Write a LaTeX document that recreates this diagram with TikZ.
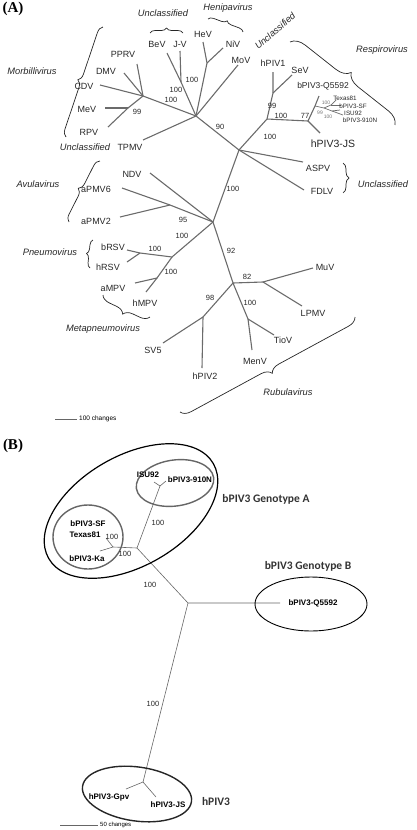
\documentclass[tikz,border=0pt]{standalone}
\usepackage{fontspec}
\setmainfont{Liberation Sans}
\newfontfamily\panelfont{Liberation Serif}
\newfontfamily\groupfont{Carlito}
\usetikzlibrary{decorations.pathreplacing,shapes.geometric}

\begin{document}
\begin{tikzpicture}[x=1pt, y=-1pt,
    branch/.style={draw=black!58, line width=1.1pt},
    twig/.style={draw=black!58, line width=0.7pt},
    btree/.style={draw=black!60, line width=0.6pt},
    leaf/.style={inner sep=0pt, text=black!85, font=\fontsize{9}{9}\selectfont},
    tiny/.style={inner sep=0pt, text=black!85, font=\fontsize{6.3}{6.3}\selectfont},
    boot/.style={inner sep=0pt, text=black!85, font=\fontsize{7.5}{7.5}\selectfont},
    smallboot/.style={inner sep=0pt, text=black!55, font=\fontsize{5}{5}\selectfont},
    genus/.style={inner sep=0pt, text=black!85, font=\fontsize{9.3}{9.3}\selectfont\itshape},
    clade/.style={decorate, decoration={brace, amplitude=#1}, draw=black!85, line width=0.7pt},
    clade/.default=6pt,
    bleaf/.style={inner sep=0pt, font=\fontsize{8}{8}\selectfont\bfseries},
    group/.style={inner sep=0pt, text=black!80, font=\fontsize{11.5}{11.5}\selectfont\groupfont\bfseries},
    ring/.style={ellipse, draw, inner sep=0pt},
    panel/.style={inner sep=0pt, font=\fontsize{15}{15}\selectfont\panelfont\bfseries}
]
\useasboundingbox (0,0) rectangle (416,830);

% Panel A
\node[panel] (pA) at (13,9) {(A)};

% Junctions
\coordinate (j1) at (196,116);
\coordinate (jmorb) at (143,96);
\coordinate (jmr) at (128,108);
\coordinate (jbj) at (181,82);
\coordinate (jhn) at (207,63);
\coordinate (j2) at (239,150);
\coordinate (jr1) at (267,119);
\coordinate (jhs) at (273,93);
\coordinate (jr2) at (308,121);
\coordinate (jr3) at (315,106);
\coordinate (jr4) at (324,108);
\coordinate (jr5) at (331,105);
\coordinate (jr6) at (332,111);
\coordinate (j3) at (213,222);
\coordinate (ja) at (170,205);
\coordinate (jp1) at (172,257);
\coordinate (jp2) at (140,253);
\coordinate (jp3) at (157,278);
\coordinate (jru1) at (233,283);
\coordinate (jru2) at (263,282);
\coordinate (jru3) at (248,319);
\coordinate (jru4) at (203,317);

% Tips
\coordinate (tPPRV) at (137,64);
\coordinate (tDMV) at (124,73);
\coordinate (tCDV) at (100,85);
\coordinate (tMeV) at (105,108);
\coordinate (tRPV) at (108,127);
\coordinate (tTPMV) at (143,140);
\coordinate (tBeV) at (167,53);
\coordinate (tJV) at (180,51);
\coordinate (tHeV) at (203,42);
\coordinate (tNiV) at (223,48);
\coordinate (tMoV) at (238,65);
\coordinate (thPIV1) at (273,72);
\coordinate (tSeV) at (292,75);
\coordinate (tQ) at (319,96);
\coordinate (tTex) at (336,100);
\coordinate (tSF) at (341,105);
\coordinate (tISU) at (340,110);
\coordinate (t910) at (343,115);
\coordinate (tJS) at (320,133);
\coordinate (tASPV) at (303,162);
\coordinate (tFDLV) at (304,190);
\coordinate (tNDV) at (150,173);
\coordinate (taPMV6) at (122,188);
\coordinate (taPMV2) at (120,217);
\coordinate (tbRSV) at (127,250);
\coordinate (thRSV) at (127,262);
\coordinate (taMPV) at (135,283);
\coordinate (thMPV) at (146,292);
\coordinate (tMuV) at (313,268);
\coordinate (tLPMV) at (302,306);
\coordinate (tTioV) at (274,335);
\coordinate (tMenV) at (252,350);
\coordinate (tSV5) at (163,343);
\coordinate (thPIV2) at (202,368);

% Branches
\draw[branch] (tPPRV) -- (jmorb);
\draw[branch] (tDMV) -- (jmorb);
\draw[branch] (tCDV) -- (jmorb) -- (j1);
\draw[branch] (tMeV) -- (jmr);
\draw[branch] (tRPV) -- (jmr) -- (jmorb);
\draw[branch] (tTPMV) -- (j1);
\draw[branch] (tBeV) -- (jbj) -- (j1);
\draw[branch] (tJV) -- (jbj);
\draw[branch] (tHeV) -- (jhn) -- (j1);
\draw[branch] (tNiV) -- (jhn);
\draw[branch] (tMoV) -- (j1);
\draw[branch] (j1) -- (j2);
\draw[branch] (j2) -- (jr1) -- (jhs) -- (thPIV1);
\draw[branch] (jhs) -- (tSeV);
\draw[branch] (jr1) -- (jr2) -- (tJS);
\draw[branch] (jr2) -- (jr3) -- (tQ);
\draw[twig] (jr3) -- (jr4) -- (jr5) -- (tTex);
\draw[twig] (jr5) -- (tSF);
\draw[twig] (jr4) -- (jr6) -- (tISU);
\draw[twig] (jr6) -- (t910);
\draw[branch] (j2) -- (tASPV);
\draw[branch] (j2) -- (tFDLV);
\draw[branch] (j2) -- (j3);
\draw[branch] (tNDV) -- (j3);
\draw[branch] (taPMV6) -- (ja) -- (j3);
\draw[branch] (taPMV2) -- (ja);
\draw[branch] (j3) -- (jp1) -- (jp2) -- (tbRSV);
\draw[branch] (jp2) -- (thRSV);
\draw[branch] (jp1) -- (jp3) -- (taMPV);
\draw[branch] (jp3) -- (thMPV);
\draw[branch] (j3) -- (jru1) -- (jru2) -- (tMuV);
\draw[branch] (jru2) -- (tLPMV);
\draw[branch] (jru1) -- (jru3) -- (tTioV);
\draw[branch] (jru3) -- (tMenV);
\draw[branch] (jru1) -- (jru4) -- (tSV5);
\draw[branch] (jru4) -- (thPIV2);

% Leaf labels
\node[leaf] (lPPRV) at (123,54) {PPRV};
\node[leaf] (lDMV) at (106,71) {DMV};
\node[leaf] (lCDV) at (84,86) {CDV};
\node[leaf] (lMeV) at (87,109) {MeV};
\node[leaf] (lRPV) at (89,132) {RPV};
\node[leaf] (lTPMV) at (130,147) {TPMV};
\node[leaf] (lBeV) at (157,44) {BeV};
\node[leaf] (lJV) at (180,44) {J-V};
\node[leaf] (lHeV) at (203,34) {HeV};
\node[leaf] (lNiV) at (233,44) {NiV};
\node[leaf] (lMoV) at (241,60) {MoV};
\node[leaf] (lhPIV1) at (273,63) {hPIV1};
\node[leaf] (lSeV) at (300,70) {SeV};
\node[leaf, font=\fontsize{8.5}{8.5}\selectfont] (lQ) at (323,86) {bPIV3-Q5592};
\node[tiny] (lTex) at (345,98) {Texas81};
\node[tiny] (lSF) at (353,106) {bPIV3-SF};
\node[tiny] (lISU) at (353,113) {ISU92};
\node[tiny] (l910) at (360,120) {bPIV3-910N};
\node[leaf, font=\fontsize{10.5}{10.5}\selectfont] (lJS) at (333,144) {hPIV3-JS};
\node[leaf] (lASPV) at (318,168) {ASPV};
\node[leaf] (lFDLV) at (322,191) {FDLV};
\node[leaf] (lNDV) at (132,174) {NDV};
\node[leaf] (laPMV6) at (96,189) {aPMV6};
\node[leaf] (laPMV2) at (96,221) {aPMV2};
\node[leaf] (lbRSV) at (113,247) {bRSV};
\node[leaf] (lhRSV) at (108,267) {hRSV};
\node[leaf] (laMPV) at (113,288) {aMPV};
\node[leaf] (lhMPV) at (145,303) {hMPV};
\node[leaf] (lMuV) at (325,267) {MuV};
\node[leaf] (lLPMV) at (313,313) {LPMV};
\node[leaf] (lTioV) at (283,340) {TioV};
\node[leaf] (lMenV) at (255,361) {MenV};
\node[leaf] (lSV5) at (153,350) {SV5};
\node[leaf] (lhPIV2) at (205,376) {hPIV2};

% Bootstrap values
\node[boot] at (171,100) {100};
\node[boot] at (176,90) {100};
\node[boot] at (192,80) {100};
\node[boot] at (137,112) {99};
\node[boot] at (220,127) {90};
\node[boot] at (272,106) {99};
\node[boot] at (281,116) {100};
\node[boot] at (305,116) {77};
\node[boot] at (270,137) {100};
\node[boot] at (233,189) {100};
\node[boot] at (183,220) {95};
\node[boot] at (182,236) {100};
\node[boot] at (155,249) {100};
\node[boot] at (171,272) {100};
\node[boot] at (231,251) {92};
\node[boot] at (247,277) {82};
\node[boot] at (250,303) {100};
\node[boot] at (210,298) {98};
\node[smallboot] at (326,103) {100};
\node[smallboot] at (320,113) {99};
\node[smallboot] at (328,117) {100};

% Genera and braces
\node[genus] (gU1) at (163,13) {Unclassified};
\draw[clade=5pt] (150,33) -- (183,33);
\node[genus] (gHen) at (228,8) {Henipavirus};
\draw[clade=5pt] (208,19) -- (243,32);
\node[genus] (gMor) at (32,71) {Morbillivirus};
\draw[clade=7pt] (66,137) -- (103,27);
\node[genus] (gU2) at (85,147) {Unclassified};
\node[genus, rotate=41] (gU3) at (275,31) {Unclassified};
\node[genus] (gRes) at (382,50) {Respirovirus};
\draw[clade=14pt] (290,42) -- (395,125);
\node[genus] (gU4) at (383,184) {Unclassified};
\draw[clade=6pt] (343,163) -- (343,193);
\node[genus] (gAvu) at (38,184) {Avulavirus};
\draw[clade=7pt] (69,222) -- (100,161);
\node[genus] (gPne) at (50,252) {Pneumovirus};
\draw[clade=5pt] (90,268) -- (93,240);
\node[genus] (gMet) at (103,329) {Metapneumovirus};
\draw[clade=9pt] (150,317) -- (103,295);
\node[genus] (gRub) at (288,392) {Rubulavirus};
\draw[clade=10pt] (355,317) -- (180,412);

% Scale A
\coordinate (sa1) at (55,419);
\coordinate (sa2) at (77,419);
\draw[draw=black!60, line width=0.8pt] (sa1) -- (sa2);
\node[inner sep=0pt, anchor=west, font=\fontsize{6.5}{6.5}\selectfont] (scA) at (79,419) {100 changes};

% Panel B
\node[panel] (pB) at (13,446) {(B)};

\coordinate (bfork) at (160,486);
\coordinate (bISU) at (154,482);
\coordinate (b910) at (166,481);
\coordinate (b1) at (137,548);
\coordinate (bsf) at (113,547);
\coordinate (bKa) at (100,551);
\coordinate (bTex) at (106,538);
\coordinate (b2) at (188,603);
\coordinate (bQ) at (280,603);
\coordinate (bh) at (143,782);
\coordinate (bGpv) at (126,789);
\coordinate (bJS) at (156,797);

\draw[btree] (bISU) -- (bfork) -- (b910);
\draw[btree] (bfork) -- (b1);
\draw[btree] (b1) -- (bsf) -- (bKa);
\draw[btree] (bsf) -- (bTex);
\draw[btree] (b1) -- (b2) -- (bQ);
\draw[btree] (b2) -- (bh);
\draw[btree] (bGpv) -- (bh) -- (bJS);

% Groups
\node[ring, line width=1.2pt, minimum width=190pt, minimum height=110pt, rotate=30] (gA) at (131,511) {};
\node[ring, draw=black!60, line width=1.4pt, minimum width=78pt, minimum height=46pt, rotate=8] (cISU) at (175,483) {};
\node[ring, draw=black!60, line width=1.4pt, minimum width=70pt, minimum height=64pt] (cSF) at (88,537) {};
\node[ring, line width=0.9pt, minimum width=112pt, minimum height=54pt] (gB) at (311,604) {};
\node[ring, draw=black!85, line width=1.4pt, minimum width=110pt, minimum height=54pt, rotate=-8] (gH) at (137,794) {};

\node[bleaf] (nISU) at (148,475) {ISU92};
\node[bleaf] (n910) at (190,480) {bPIV3-910N};
\node[bleaf] (nSF) at (88,524) {bPIV3-SF};
\node[bleaf] (nTex) at (85,535) {Texas81};
\node[bleaf] (nKa) at (87,559) {bPIV3-Ka};
\node[bleaf] (nQ) at (313,603) {bPIV3-Q5592};
\node[bleaf] (nGpv) at (109,797) {hPIV3-Gpv};
\node[bleaf] (nJS) at (168,805) {hPIV3-JS};

\node[boot] at (158,523) {100};
\node[boot] at (112,537) {100};
\node[boot] at (125,554) {100};
\node[boot] at (150,585) {100};
\node[boot] at (153,704) {100};

\node[group] (tA) at (266,499) {bPIV3 Genotype A};
\node[group] (tB) at (308,566) {bPIV3 Genotype B};
\node[group] (tH) at (216,801) {hPIV3};

% Scale B
\coordinate (sb1) at (60,825);
\coordinate (sb2) at (98,825);
\draw[draw=black!60, line width=0.6pt] (sb1) -- (sb2);
\node[inner sep=0pt, anchor=west, font=\fontsize{6}{6}\selectfont] (scB) at (100,825) {50 changes};
\end{tikzpicture}
\end{document}
